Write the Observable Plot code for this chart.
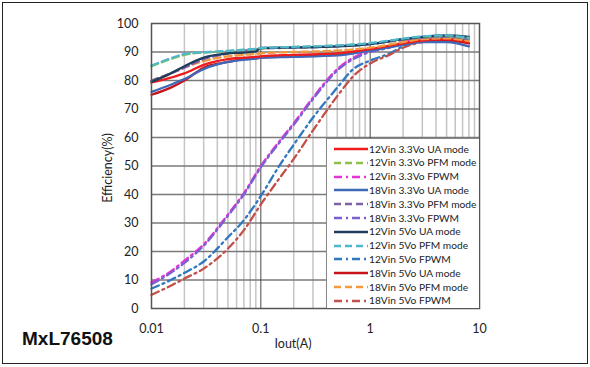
<!DOCTYPE html>
<html>
<head>
<meta charset="utf-8">
<script src="https://cdn.jsdelivr.net/npm/d3@7"></script>
<script src="https://cdn.jsdelivr.net/npm/@observablehq/plot@0.6"></script>
<style>
  body { margin: 0; background: #fff; }
  #wrap { position: relative; width: 590px; height: 367px; overflow: hidden; font-family: Lato, "Open Sans", sans-serif; }
  #border { position: absolute; left: 2px; top: 2px; width: 584px; height: 360px; border: 1.5px solid #222; pointer-events: none; }
  #legend { position: absolute; left: 326px; top: 138px; width: 152px; height: 169px; background: #fff; border-left: 1px solid #888; border-top: 1px solid #888; }
  .lt { position: absolute; font-size: 10.2px; color: #222; white-space: nowrap; line-height: 12px; }
  #chip { position: absolute; left: 22px; top: 328px; font: bold 19px "Liberation Sans", Arial, sans-serif; color: #111; }
  #xl { position: absolute; left: 293px; top: 336px; transform: translateX(-50%); font-size: 12.5px; color: #222; }
  #yl { position: absolute; left: 107px; top: 168px; transform: translate(-50%, -50%) rotate(-90deg); font-size: 12.5px; color: #222; white-space: nowrap; }
</style>
</head>
<body>
<div id="wrap"></div>
<script>
// ---- data ----
const modeCurrent = [0.01, 0.015, 0.02, 0.03, 0.05, 0.07, 0.09, 0.1, 0.2, 0.5, 1, 2, 3, 5, 8];
const fpwmCurrent = [0.01, 0.015, 0.02, 0.03, 0.05, 0.07, 0.1, 0.15, 0.2, 0.3, 0.5, 0.7, 1, 1.5, 2, 3, 5, 8];

const eff12v33UA  = [79.3, 81, 82.5, 85.5, 87.5, 88, 88.3, 88.5, 89, 89.5, 91, 93, 94, 94.5, 93.5];
const eff12v33PFM = [85, 87.5, 89, 89.8, 90.3, 90.7, 91, 91.3, 91.7, 92.2, 93, 94.5, 95.2, 95.6, 94.8];
const eff12v33FPWM = [9.2, 13, 16.8, 22.5, 33, 40.5, 50, 59, 65, 74, 84, 88, 90.5, 92, 93.5, 94.5, 95, 94.3];
const eff18v33UA  = [76, 78.5, 80.5, 84, 86.5, 87.3, 87.7, 88, 88.3, 88.8, 90.5, 92.5, 93.5, 93.5, 92];
const eff18v33PFM = [80, 82.5, 84.5, 87.5, 89.5, 90.5, 90.8, 91.2, 91.5, 92, 92.8, 94.3, 95, 95.3, 94.5];
const eff18v33FPWM = [8.5, 12.5, 16, 22, 32.5, 40, 49.5, 58.5, 64.5, 73.5, 83.5, 87.5, 90, 91.5, 93, 94.2, 94.8, 94];
const eff12v5UA   = [79.5, 82.5, 85, 88, 89.5, 89.8, 90.2, 91.4, 91.6, 92, 92.8, 94.5, 95.3, 95.8, 95.3];
const eff12v5PFM  = [85.2, 87.8, 89.3, 89.9, 90.4, 90.8, 91.1, 91.4, 91.8, 92.3, 93.1, 94.7, 95.5, 95.8, 95];
const eff12v5FPWM = [7, 10, 12.5, 16.5, 25, 31, 39.5, 50.5, 57.5, 67, 77.5, 84, 87, 89.5, 92, 94, 94.8, 94];
const eff18v5UA   = [75, 77.5, 80, 84.5, 86.5, 87.5, 87.8, 88, 88.5, 89, 90.7, 92.8, 93.8, 94, 93];
const eff18v5PFM  = [80, 82.5, 84.5, 86.8, 88.5, 89, 89.3, 89.5, 90, 90.5, 91.5, 93.5, 94.5, 94.8, 93.8];
const eff18v5FPWM = [4.8, 8, 10.5, 14, 21, 27.5, 36.5, 46, 52.5, 62.5, 74.5, 81.5, 86, 89, 91.5, 93.5, 94.3, 93.5];

const seriesNames = [
  "12Vin 3.3Vo UA mode", "12Vin 3.3Vo PFM mode", "12Vin 3.3Vo FPWM",
  "18Vin 3.3Vo UA mode", "18Vin 3.3Vo PFM mode", "18Vin 3.3Vo FPWM",
  "12Vin 5Vo UA mode", "12Vin 5Vo PFM mode", "12Vin 5Vo FPWM",
  "18Vin 5Vo UA mode", "18Vin 5Vo PFM mode", "18Vin 5Vo FPWM"
];
const seriesValues = [
  eff12v33UA, eff12v33PFM, eff12v33FPWM,
  eff18v33UA, eff18v33PFM, eff18v33FPWM,
  eff12v5UA, eff12v5PFM, eff12v5FPWM,
  eff18v5UA, eff18v5PFM, eff18v5FPWM
];
const seriesKinds = ["UA", "PFM", "FPWM", "UA", "PFM", "FPWM", "UA", "PFM", "FPWM", "UA", "PFM", "FPWM"];
const seriesColors = [
  "#ee1c1c", "#8cc04a", "#e633d6",
  "#3e68b8", "#7e62a8", "#7a5fd0",
  "#1f3d5c", "#4fb8cc", "#2f78c0",
  "#c8141a", "#f59a3c", "#c2504a"
];
const xTickValues = [0.01, 0.1, 1, 10];
const xTickLabels = ["0.01", "0.1", "1", "10"];
const yTickValues = [0, 10, 20, 30, 40, 50, 60, 70, 80, 90, 100];
const minorX = [0.02, 0.03, 0.04, 0.05, 0.06, 0.07, 0.08, 0.09, 0.2, 0.3, 0.4, 0.5, 0.6, 0.7, 0.8, 0.9, 2, 3, 4, 5, 6, 7, 8, 9];
const decadeX = [0.1, 1];

// ---- build ----
const dashFor = {UA: null, PFM: "7,4", FPWM: "8,4,2,4"};
const rows = [];
seriesNames.forEach((name, i) => {
  const xs = seriesKinds[i] === "FPWM" ? fpwmCurrent : modeCurrent;
  seriesValues[i].forEach((v, j) => rows.push({series: name, idx: i, x: xs[j], y: v}));
});
const order = [2, 5, 8, 11, 9, 3, 0, 10, 4, 1, 6, 7];
const lineMarks = order.map(i => Plot.line(rows.filter(r => r.idx === i), {
  x: "x", y: "y", stroke: seriesColors[i], strokeWidth: 2.3,
  strokeDasharray: dashFor[seriesKinds[i]], curve: "monotone-x"
}));

const chart = Plot.plot({
  width: 590, height: 367,
  marginLeft: 151, marginRight: 111, marginTop: 23, marginBottom: 59,
  style: {fontFamily: "Lato, 'Open Sans', sans-serif", fontSize: "12.5px", color: "#222", background: "transparent"},
  x: {type: "log", domain: [0.01, 10]},
  y: {domain: [0, 100]},
  marks: [
    Plot.ruleX(minorX, {stroke: "#c4c4c4", strokeWidth: 1.5}),
    Plot.ruleY(yTickValues.slice(1, -1), {stroke: "#7a7a7a", strokeWidth: 1.5}),
    Plot.ruleX(decadeX, {stroke: "#4a4a4a", strokeWidth: 1}),
    ...lineMarks,
    Plot.frame({stroke: "#555", strokeWidth: 1.5}),
    Plot.axisX({ticks: xTickValues, tickFormat: d => xTickLabels[xTickValues.indexOf(d)], tickSize: 0, tickPadding: 16, label: null}),
    Plot.axisY({ticks: yTickValues, tickSize: 0, tickPadding: 13, label: null})
  ]
});

const wrap = document.getElementById("wrap");
wrap.appendChild(chart);

// legend
const legend = document.createElement("div");
legend.id = "legend";
const ns = "http://www.w3.org/2000/svg";
seriesNames.forEach((name, i) => {
  const cy = 10 + i * 13.8;
  const svg = document.createElementNS(ns, "svg");
  svg.setAttribute("width", "40"); svg.setAttribute("height", "8");
  svg.style.position = "absolute"; svg.style.left = "4px"; svg.style.top = (cy - 4) + "px";
  const ln = document.createElementNS(ns, "line");
  ln.setAttribute("x1", "3"); ln.setAttribute("x2", "37");
  ln.setAttribute("y1", "4"); ln.setAttribute("y2", "4");
  ln.setAttribute("stroke", seriesColors[i]); ln.setAttribute("stroke-width", "2.3");
  if (dashFor[seriesKinds[i]]) ln.setAttribute("stroke-dasharray", dashFor[seriesKinds[i]]);
  svg.appendChild(ln);
  legend.appendChild(svg);
  const t = document.createElement("div");
  t.className = "lt"; t.textContent = name;
  t.style.left = "42px"; t.style.top = (cy - 6.5) + "px";
  legend.appendChild(t);
});
wrap.appendChild(legend);

const chip = document.createElement("div"); chip.id = "chip"; chip.textContent = "MxL76508"; wrap.appendChild(chip);
const xl = document.createElement("div"); xl.id = "xl"; xl.textContent = "Iout(A)"; wrap.appendChild(xl);
const yl = document.createElement("div"); yl.id = "yl"; yl.textContent = "Efficiency(%)"; wrap.appendChild(yl);
const border = document.createElement("div"); border.id = "border"; wrap.appendChild(border);
</script>
</body>
</html>
